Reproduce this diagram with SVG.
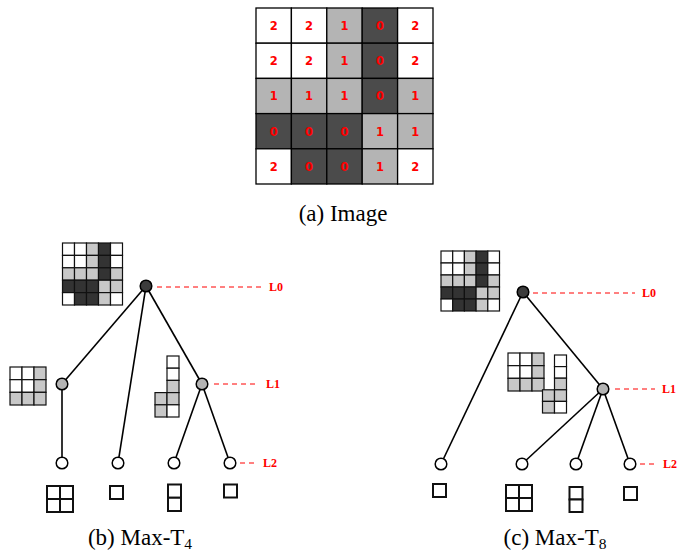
<svg xmlns="http://www.w3.org/2000/svg" width="678" height="553" viewBox="0 0 678 553">
<style>
.bg{fill:#fff}
.w{fill:#fff;stroke:#000;stroke-width:1.3}
.g{fill:#b4b4b4;stroke:#000;stroke-width:1.3}
.d{fill:#4b4b4b;stroke:#000;stroke-width:1.3}
.sw{fill:#fff;stroke:#111;stroke-width:1.2}
.sg{fill:#c8c8c8;stroke:#111;stroke-width:1.2}
.sd{fill:#333;stroke:#111;stroke-width:1.2}
.leaf{fill:#fff;stroke:#111;stroke-width:2}
.num{font-family:"DejaVu Sans",Verdana,sans-serif;font-weight:bold;font-size:11.5px;fill:#f00;text-anchor:middle}
.edge{stroke:#000;stroke-width:1.6;fill:none}
.lvl{stroke:#f00;stroke-width:1;stroke-dasharray:5,4;fill:none}
.lab{font-family:"Liberation Serif","Times New Roman",serif;font-weight:bold;font-size:12px;fill:#f00}
.cap{font-family:"Liberation Serif","Times New Roman",serif;font-size:23px;fill:#000;text-anchor:middle}
.n0{fill:#3c3c3c;stroke:#000;stroke-width:1.5}
.n1{fill:#b4b4b4;stroke:#000;stroke-width:1.5}
.n2{fill:#fff;stroke:#000;stroke-width:1.5}
</style>
<rect class="bg" x="0" y="0" width="678" height="553"/>

<g id="image-a">
<rect class="w" x="256" y="8" width="35.4" height="35.2"/><rect class="w" x="291.4" y="8" width="35.4" height="35.2"/><rect class="g" x="326.8" y="8" width="35.4" height="35.2"/><rect class="d" x="362.2" y="8" width="35.4" height="35.2"/><rect class="w" x="397.6" y="8" width="35.4" height="35.2"/>
<rect class="w" x="256" y="43.2" width="35.4" height="35.2"/><rect class="w" x="291.4" y="43.2" width="35.4" height="35.2"/><rect class="g" x="326.8" y="43.2" width="35.4" height="35.2"/><rect class="d" x="362.2" y="43.2" width="35.4" height="35.2"/><rect class="w" x="397.6" y="43.2" width="35.4" height="35.2"/>
<rect class="g" x="256" y="78.4" width="35.4" height="35.2"/><rect class="g" x="291.4" y="78.4" width="35.4" height="35.2"/><rect class="g" x="326.8" y="78.4" width="35.4" height="35.2"/><rect class="d" x="362.2" y="78.4" width="35.4" height="35.2"/><rect class="g" x="397.6" y="78.4" width="35.4" height="35.2"/>
<rect class="d" x="256" y="113.6" width="35.4" height="35.2"/><rect class="d" x="291.4" y="113.6" width="35.4" height="35.2"/><rect class="d" x="326.8" y="113.6" width="35.4" height="35.2"/><rect class="g" x="362.2" y="113.6" width="35.4" height="35.2"/><rect class="g" x="397.6" y="113.6" width="35.4" height="35.2"/>
<rect class="w" x="256" y="148.8" width="35.4" height="35.2"/><rect class="d" x="291.4" y="148.8" width="35.4" height="35.2"/><rect class="d" x="326.8" y="148.8" width="35.4" height="35.2"/><rect class="g" x="362.2" y="148.8" width="35.4" height="35.2"/><rect class="w" x="397.6" y="148.8" width="35.4" height="35.2"/>
<text class="num" x="273.7" y="30">2</text><text class="num" x="309.1" y="30">2</text><text class="num" x="344.5" y="30">1</text><text class="num" x="379.9" y="30">0</text><text class="num" x="415.3" y="30">2</text>
<text class="num" x="273.7" y="65.2">2</text><text class="num" x="309.1" y="65.2">2</text><text class="num" x="344.5" y="65.2">1</text><text class="num" x="379.9" y="65.2">0</text><text class="num" x="415.3" y="65.2">2</text>
<text class="num" x="273.7" y="100.4">1</text><text class="num" x="309.1" y="100.4">1</text><text class="num" x="344.5" y="100.4">1</text><text class="num" x="379.9" y="100.4">0</text><text class="num" x="415.3" y="100.4">1</text>
<text class="num" x="273.7" y="135.6">0</text><text class="num" x="309.1" y="135.6">0</text><text class="num" x="344.5" y="135.6">0</text><text class="num" x="379.9" y="135.6">1</text><text class="num" x="415.3" y="135.6">1</text>
<text class="num" x="273.7" y="170.8">2</text><text class="num" x="309.1" y="170.8">0</text><text class="num" x="344.5" y="170.8">0</text><text class="num" x="379.9" y="170.8">1</text><text class="num" x="415.3" y="170.8">2</text>
<text class="cap" x="343" y="221">(a) Image</text>
</g>

<!-- Left tree (b) -->
<g id="thumb-b-root">
<rect class="sw" x="62.5" y="243" width="12" height="12.4"/><rect class="sw" x="74.5" y="243" width="12" height="12.4"/><rect class="sg" x="86.5" y="243" width="12" height="12.4"/><rect class="sd" x="98.5" y="243" width="12" height="12.4"/><rect class="sw" x="110.5" y="243" width="12" height="12.4"/>
<rect class="sw" x="62.5" y="255.4" width="12" height="12.4"/><rect class="sw" x="74.5" y="255.4" width="12" height="12.4"/><rect class="sg" x="86.5" y="255.4" width="12" height="12.4"/><rect class="sd" x="98.5" y="255.4" width="12" height="12.4"/><rect class="sw" x="110.5" y="255.4" width="12" height="12.4"/>
<rect class="sg" x="62.5" y="267.8" width="12" height="12.4"/><rect class="sg" x="74.5" y="267.8" width="12" height="12.4"/><rect class="sg" x="86.5" y="267.8" width="12" height="12.4"/><rect class="sd" x="98.5" y="267.8" width="12" height="12.4"/><rect class="sg" x="110.5" y="267.8" width="12" height="12.4"/>
<rect class="sd" x="62.5" y="280.2" width="12" height="12.4"/><rect class="sd" x="74.5" y="280.2" width="12" height="12.4"/><rect class="sd" x="86.5" y="280.2" width="12" height="12.4"/><rect class="sg" x="98.5" y="280.2" width="12" height="12.4"/><rect class="sg" x="110.5" y="280.2" width="12" height="12.4"/>
<rect class="sw" x="62.5" y="292.6" width="12" height="12.4"/><rect class="sd" x="74.5" y="292.6" width="12" height="12.4"/><rect class="sd" x="86.5" y="292.6" width="12" height="12.4"/><rect class="sg" x="98.5" y="292.6" width="12" height="12.4"/><rect class="sw" x="110.5" y="292.6" width="12" height="12.4"/>
</g>
<g id="thumb-b-l1a">
<rect class="sw" x="10" y="367" width="12" height="12.67"/><rect class="sw" x="22" y="367" width="12" height="12.67"/><rect class="sg" x="34" y="367" width="12" height="12.67"/>
<rect class="sw" x="10" y="379.67" width="12" height="12.67"/><rect class="sw" x="22" y="379.67" width="12" height="12.67"/><rect class="sg" x="34" y="379.67" width="12" height="12.67"/>
<rect class="sg" x="10" y="392.33" width="12" height="12.67"/><rect class="sg" x="22" y="392.33" width="12" height="12.67"/><rect class="sg" x="34" y="392.33" width="12" height="12.67"/>
</g>
<g id="thumb-b-l1b">
<rect class="sw" x="167" y="356" width="12" height="12.2"/>
<rect class="sw" x="167" y="368.2" width="12" height="12.2"/>
<rect class="sg" x="167" y="380.4" width="12" height="12.2"/>
<rect class="sg" x="155" y="392.6" width="12" height="12.2"/><rect class="sg" x="167" y="392.6" width="12" height="12.2"/>
<rect class="sg" x="155" y="404.8" width="12" height="12.2"/><rect class="sw" x="167" y="404.8" width="12" height="12.2"/>
</g>
<g id="leaves-b">
<rect class="leaf" x="47" y="486" width="13" height="13"/><rect class="leaf" x="60" y="486" width="13" height="13"/><rect class="leaf" x="47" y="499" width="13" height="13"/><rect class="leaf" x="60" y="499" width="13" height="13"/>
<rect class="leaf" x="110" y="486" width="13" height="13"/>
<rect class="leaf" x="168" y="484.5" width="13" height="13.25"/><rect class="leaf" x="168" y="497.75" width="13" height="13.25"/>
<rect class="leaf" x="224" y="484.5" width="13" height="13"/>
</g>

<!-- Right tree (c) -->
<g id="thumb-c-root">
<rect class="sw" x="441" y="251" width="11.7" height="12"/><rect class="sw" x="452.7" y="251" width="11.7" height="12"/><rect class="sg" x="464.4" y="251" width="11.7" height="12"/><rect class="sd" x="476.1" y="251" width="11.7" height="12"/><rect class="sw" x="487.8" y="251" width="11.7" height="12"/>
<rect class="sw" x="441" y="263" width="11.7" height="12"/><rect class="sw" x="452.7" y="263" width="11.7" height="12"/><rect class="sg" x="464.4" y="263" width="11.7" height="12"/><rect class="sd" x="476.1" y="263" width="11.7" height="12"/><rect class="sw" x="487.8" y="263" width="11.7" height="12"/>
<rect class="sg" x="441" y="275" width="11.7" height="12"/><rect class="sg" x="452.7" y="275" width="11.7" height="12"/><rect class="sg" x="464.4" y="275" width="11.7" height="12"/><rect class="sd" x="476.1" y="275" width="11.7" height="12"/><rect class="sg" x="487.8" y="275" width="11.7" height="12"/>
<rect class="sd" x="441" y="287" width="11.7" height="12"/><rect class="sd" x="452.7" y="287" width="11.7" height="12"/><rect class="sd" x="464.4" y="287" width="11.7" height="12"/><rect class="sg" x="476.1" y="287" width="11.7" height="12"/><rect class="sg" x="487.8" y="287" width="11.7" height="12"/>
<rect class="sw" x="441" y="299" width="11.7" height="12"/><rect class="sd" x="452.7" y="299" width="11.7" height="12"/><rect class="sd" x="464.4" y="299" width="11.7" height="12"/><rect class="sg" x="476.1" y="299" width="11.7" height="12"/><rect class="sw" x="487.8" y="299" width="11.7" height="12"/>
</g>
<g id="thumb-c-l1">
<rect class="sw" x="508" y="353" width="12" height="12.67"/><rect class="sw" x="520" y="353" width="12" height="12.67"/><rect class="sg" x="532" y="353" width="12" height="12.67"/>
<rect class="sw" x="508" y="365.67" width="12" height="12.67"/><rect class="sw" x="520" y="365.67" width="12" height="12.67"/><rect class="sg" x="532" y="365.67" width="12" height="12.67"/>
<rect class="sg" x="508" y="378.33" width="12" height="12.67"/><rect class="sg" x="520" y="378.33" width="12" height="12.67"/><rect class="sg" x="532" y="378.33" width="12" height="12.67"/>
<rect class="sw" x="554.5" y="355" width="12" height="11.6"/>
<rect class="sw" x="554.5" y="366.6" width="12" height="11.6"/>
<rect class="sg" x="554.5" y="378.2" width="12" height="11.6"/>
<rect class="sg" x="542.5" y="389.8" width="12" height="11.6"/><rect class="sg" x="554.5" y="389.8" width="12" height="11.6"/>
<rect class="sg" x="542.5" y="401.4" width="12" height="11.6"/><rect class="sw" x="554.5" y="401.4" width="12" height="11.6"/>
</g>
<g id="leaves-c">
<rect class="leaf" x="433" y="484" width="13" height="13"/>
<rect class="leaf" x="506" y="485" width="13" height="13"/><rect class="leaf" x="519" y="485" width="13" height="13"/><rect class="leaf" x="506" y="498" width="13" height="13"/><rect class="leaf" x="519" y="498" width="13" height="13"/>
<rect class="leaf" x="569.5" y="487" width="13" height="12.5"/><rect class="leaf" x="569.5" y="499.5" width="13" height="12.5"/>
<rect class="leaf" x="624" y="487" width="13" height="13"/>
</g>

<g id="connectors">
<line class="edge" x1="146" y1="286" x2="62" y2="384"/>
<line class="edge" x1="146" y1="286" x2="118" y2="463"/>
<line class="edge" x1="146" y1="286" x2="202" y2="384"/>
<line class="edge" x1="62" y1="384" x2="62" y2="463"/>
<line class="edge" x1="202" y1="384" x2="174" y2="463"/>
<line class="edge" x1="202" y1="384" x2="230" y2="463"/>
<line class="edge" x1="523" y1="292" x2="441" y2="464"/>
<line class="edge" x1="523" y1="292" x2="603" y2="389"/>
<line class="edge" x1="603" y1="389" x2="522" y2="464"/>
<line class="edge" x1="603" y1="389" x2="576" y2="464"/>
<line class="edge" x1="603" y1="389" x2="630" y2="464"/>
<line class="lvl" x1="157" y1="287" x2="262" y2="287"/>
<line class="lvl" x1="214" y1="384" x2="255" y2="384"/>
<line class="lvl" x1="240" y1="463" x2="257" y2="463"/>
<line class="lvl" x1="533" y1="293" x2="635" y2="293"/>
<line class="lvl" x1="615" y1="389" x2="655" y2="389"/>
<line class="lvl" x1="640" y1="464" x2="657" y2="464"/>
</g>

<g id="node-b-root"><circle class="n0" cx="146" cy="286" r="5.8"/></g>
<g id="node-b-l1a"><circle class="n1" cx="62" cy="384" r="5.8"/></g>
<g id="node-b-l1b"><circle class="n1" cx="202" cy="384" r="5.8"/></g>
<g id="node-b-l2a"><circle class="n2" cx="62" cy="463" r="5.8"/></g>
<g id="node-b-l2b"><circle class="n2" cx="118" cy="463" r="5.8"/></g>
<g id="node-b-l2c"><circle class="n2" cx="174" cy="463" r="5.8"/></g>
<g id="node-b-l2d"><circle class="n2" cx="230" cy="463" r="5.8"/></g>
<g id="node-c-root"><circle class="n0" cx="523" cy="292" r="5.8"/></g>
<g id="node-c-l1"><circle class="n1" cx="603" cy="389" r="5.8"/></g>
<g id="node-c-l2a"><circle class="n2" cx="441" cy="464" r="5.8"/></g>
<g id="node-c-l2b"><circle class="n2" cx="522" cy="464" r="5.8"/></g>
<g id="node-c-l2c"><circle class="n2" cx="576" cy="464" r="5.8"/></g>
<g id="node-c-l2d"><circle class="n2" cx="630" cy="464" r="5.8"/></g>

<g id="labels">
<text class="lab" x="269" y="291">L0</text>
<text class="lab" x="266" y="388">L1</text>
<text class="lab" x="263" y="467">L2</text>
<text class="lab" x="642" y="297">L0</text>
<text class="lab" x="662" y="393">L1</text>
<text class="lab" x="663" y="468">L2</text>
<text class="cap" x="140" y="545">(b) Max-T<tspan font-size="15.5" dy="4">4</tspan></text>
<text class="cap" x="555" y="545">(c) Max-T<tspan font-size="15.5" dy="4">8</tspan></text>
</g>
</svg>
